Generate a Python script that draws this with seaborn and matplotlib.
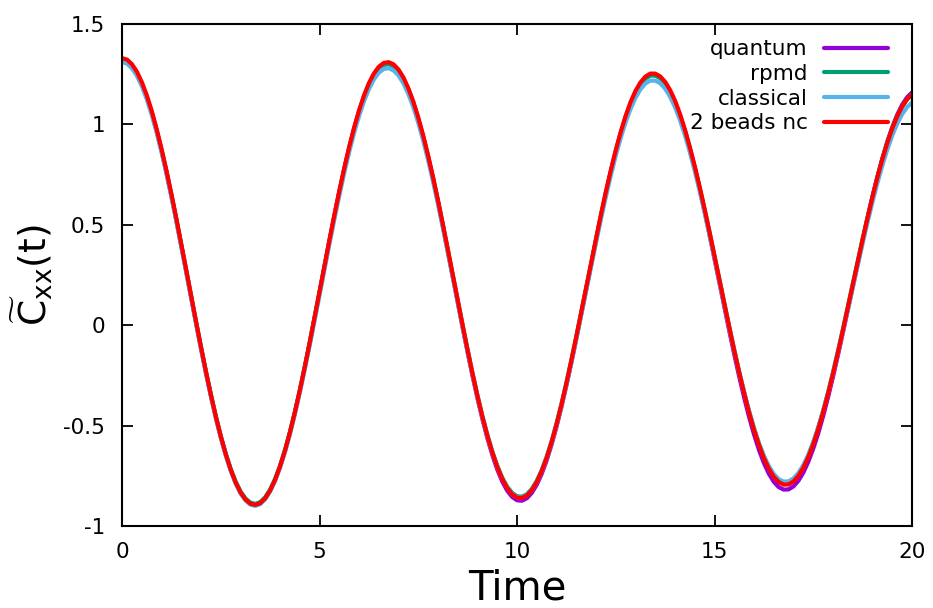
import numpy as np
import pandas as pd
import matplotlib
matplotlib.use("Agg")
import matplotlib.pyplot as plt
import seaborn as sns

# Time grid of the correlation functions (step 0.125)
time = np.linspace(0.0, 20.0, 161)

quantum = [
    1.3200, 1.3125, 1.2899, 1.2527, 1.2012, 1.1363, 1.0587, 0.9696, 0.8702, 0.7618,
    0.6459, 0.5241, 0.3980, 0.2694, 0.1401, 0.0117, -0.1140, -0.2352, -0.3502, -0.4576,
    -0.5558, -0.6436, -0.7197, -0.7831, -0.8329, -0.8684, -0.8892, -0.8950, -0.8856, -0.8614,
    -0.8227, -0.7700, -0.7039, -0.6254, -0.5356, -0.4357, -0.3271, -0.2112, -0.0896, 0.0360,
    0.1639, 0.2923, 0.4196, 0.5440, 0.6637, 0.7772, 0.8828, 0.9792, 1.0650, 1.1391,
    1.2005, 1.2483, 1.2818, 1.3007, 1.3046, 1.2936, 1.2679, 1.2278, 1.1739, 1.1070,
    1.0278, 0.9375, 0.8374, 0.7288, 0.6132, 0.4922, 0.3674, 0.2405, 0.1132, -0.0127,
    -0.1354, -0.2533, -0.3649, -0.4686, -0.5629, -0.6466, -0.7186, -0.7778, -0.8235, -0.8550,
    -0.8720, -0.8742, -0.8616, -0.8348, -0.7941, -0.7400, -0.6732, -0.5947, -0.5055, -0.4069,
    -0.3002, -0.1868, -0.0682, 0.0538, 0.1776, 0.3016, 0.4240, 0.5431, 0.6574, 0.7653,
    0.8654, 0.9562, 1.0365, 1.1052, 1.1614, 1.2043, 1.2333, 1.2481, 1.2484, 1.2346,
    1.2068, 1.1655, 1.1113, 1.0449, 0.9671, 0.8790, 0.7819, 0.6771, 0.5659, 0.4500,
    0.3309, 0.2102, 0.0895, -0.0295, -0.1451, -0.2558, -0.3600, -0.4565, -0.5437, -0.6206,
    -0.6861, -0.7394, -0.7796, -0.8062, -0.8189, -0.8178, -0.8027, -0.7744, -0.7332, -0.6796,
    -0.6144, -0.5384, -0.4526, -0.3583, -0.2567, -0.1492, -0.0373, 0.0775, 0.1936, 0.3095,
    0.4236, 0.5343, 0.6400, 0.7394, 0.8311, 0.9138, 0.9865, 1.0481, 1.0978, 1.1349,
    1.1589,
]

rpmd = [
    1.320, 1.313, 1.290, 1.253, 1.201, 1.136, 1.059, 0.970, 0.871, 0.763,
    0.647, 0.526, 0.400, 0.272, 0.143, 0.015, -0.111, -0.232, -0.346, -0.454,
    -0.552, -0.639, -0.715, -0.778, -0.828, -0.863, -0.884, -0.890, -0.881, -0.857,
    -0.818, -0.766, -0.700, -0.622, -0.532, -0.433, -0.325, -0.209, -0.088, 0.037,
    0.164, 0.292, 0.419, 0.543, 0.662, 0.775, 0.880, 0.976, 1.061, 1.135,
    1.196, 1.244, 1.277, 1.296, 1.300, 1.289, 1.263, 1.223, 1.170, 1.104,
    1.026, 0.937, 0.838, 0.731, 0.616, 0.496, 0.373, 0.248, 0.122, -0.003,
    -0.124, -0.241, -0.351, -0.454, -0.547, -0.629, -0.700, -0.759, -0.804, -0.835,
    -0.852, -0.854, -0.842, -0.815, -0.775, -0.722, -0.656, -0.578, -0.490, -0.393,
    -0.287, -0.175, -0.058, 0.063, 0.185, 0.308, 0.429, 0.546, 0.659, 0.766,
    0.865, 0.955, 1.034, 1.102, 1.157, 1.199, 1.228, 1.243, 1.243, 1.230,
    1.203, 1.162, 1.109, 1.044, 0.968, 0.881, 0.786, 0.683, 0.574, 0.461,
    0.344, 0.226, 0.107, -0.010, -0.123, -0.232, -0.334, -0.429, -0.514, -0.590,
    -0.654, -0.706, -0.745, -0.771, -0.784, -0.783, -0.768, -0.740, -0.700, -0.648,
    -0.584, -0.510, -0.426, -0.334, -0.234, -0.129, -0.020, 0.092, 0.206, 0.319,
    0.430, 0.538, 0.642, 0.739, 0.829, 0.910, 0.981, 1.041, 1.089, 1.125,
    1.149,
]

classical = [
    1.310, 1.303, 1.280, 1.243, 1.191, 1.126, 1.049, 0.960, 0.861, 0.753,
    0.637, 0.516, 0.390, 0.262, 0.133, 0.005, -0.121, -0.242, -0.356, -0.464,
    -0.562, -0.649, -0.725, -0.788, -0.838, -0.873, -0.894, -0.900, -0.891, -0.867,
    -0.828, -0.776, -0.711, -0.633, -0.544, -0.445, -0.337, -0.222, -0.102, 0.022,
    0.149, 0.277, 0.403, 0.526, 0.644, 0.757, 0.862, 0.957, 1.042, 1.115,
    1.176, 1.224, 1.257, 1.276, 1.280, 1.269, 1.244, 1.204, 1.151, 1.086,
    1.008, 0.919, 0.821, 0.714, 0.601, 0.482, 0.360, 0.235, 0.110, -0.014,
    -0.134, -0.250, -0.359, -0.461, -0.554, -0.636, -0.706, -0.764, -0.809, -0.840,
    -0.857, -0.859, -0.847, -0.821, -0.781, -0.728, -0.663, -0.586, -0.498, -0.402,
    -0.297, -0.186, -0.070, 0.049, 0.170, 0.291, 0.411, 0.528, 0.640, 0.746,
    0.844, 0.933, 1.011, 1.078, 1.133, 1.175, 1.204, 1.218, 1.218, 1.205,
    1.178, 1.138, 1.086, 1.022, 0.947, 0.862, 0.768, 0.667, 0.559, 0.447,
    0.332, 0.215, 0.099, -0.016, -0.128, -0.235, -0.336, -0.429, -0.513, -0.588,
    -0.651, -0.702, -0.741, -0.767, -0.779, -0.778, -0.763, -0.736, -0.697, -0.646,
    -0.584, -0.511, -0.429, -0.339, -0.242, -0.140, -0.033, 0.077, 0.188, 0.298,
    0.407, 0.513, 0.614, 0.709, 0.796, 0.875, 0.945, 1.004, 1.051, 1.086,
    1.109,
]

beads2_nc = [
    1.330, 1.323, 1.300, 1.263, 1.211, 1.146, 1.068, 0.978, 0.878, 0.769,
    0.653, 0.531, 0.404, 0.275, 0.145, 0.016, -0.110, -0.232, -0.348, -0.456,
    -0.554, -0.642, -0.719, -0.783, -0.833, -0.868, -0.889, -0.895, -0.886, -0.862,
    -0.823, -0.770, -0.703, -0.625, -0.535, -0.435, -0.326, -0.210, -0.088, 0.038,
    0.166, 0.295, 0.423, 0.547, 0.667, 0.781, 0.887, 0.983, 1.069, 1.143,
    1.205, 1.253, 1.287, 1.306, 1.310, 1.299, 1.273, 1.233, 1.179, 1.113,
    1.034, 0.944, 0.844, 0.736, 0.621, 0.500, 0.376, 0.250, 0.123, -0.003,
    -0.125, -0.243, -0.354, -0.457, -0.551, -0.634, -0.706, -0.765, -0.811, -0.842,
    -0.859, -0.861, -0.849, -0.822, -0.781, -0.727, -0.661, -0.583, -0.494, -0.396,
    -0.289, -0.176, -0.058, 0.064, 0.187, 0.310, 0.432, 0.551, 0.665, 0.772,
    0.872, 0.962, 1.042, 1.111, 1.167, 1.209, 1.238, 1.253, 1.253, 1.239,
    1.212, 1.171, 1.118, 1.052, 0.975, 0.887, 0.791, 0.688, 0.578, 0.463,
    0.345, 0.225, 0.106, -0.012, -0.127, -0.236, -0.339, -0.435, -0.521, -0.597,
    -0.662, -0.715, -0.755, -0.781, -0.794, -0.793, -0.778, -0.750, -0.710, -0.657,
    -0.593, -0.518, -0.434, -0.342, -0.242, -0.136, -0.026, 0.087, 0.201, 0.315,
    0.427, 0.535, 0.639, 0.737, 0.827, 0.908, 0.980, 1.040, 1.089, 1.125,
    1.149,
]

series_names = ["quantum", "rpmd", "classical", "2 beads nc"]
series_colors = ["#9400d3", "#009e73", "#56b4e9", "#ff0000"]
x_ticks = [0, 5, 10, 15, 20]
y_ticks = [-1, -0.5, 0, 0.5, 1, 1.5]
y_tick_labels = ["-1", "-0.5", "0", "0.5", "1", "1.5"]

df = pd.concat(
    [
        pd.DataFrame({"Time": time, "C": vals, "method": name})
        for name, vals in zip(series_names, [quantum, rpmd, classical, beads2_nc])
    ],
    ignore_index=True,
)

sns.set_theme(style="ticks")
plt.rcParams["font.family"] = ["DejaVu Sans"]
plt.rcParams["mathtext.fontset"] = "dejavusans"
plt.rcParams["text.color"] = "black"
plt.rcParams["axes.labelcolor"] = "black"

fig = plt.figure(figsize=(9.33, 6.08), dpi=100)
ax = fig.add_axes([0.1308, 0.1349, 0.8467, 0.8256])

sns.lineplot(
    data=df, x="Time", y="C", hue="method", hue_order=series_names,
    palette=dict(zip(series_names, series_colors)), estimator=None,
    sort=False, linewidth=3.0, legend=False, ax=ax,
)
for line in ax.lines:
    line.set_solid_joinstyle("round")
    line.set_solid_capstyle("round")

ax.set_xlim(0, 20)
ax.set_ylim(-1, 1.5)
ax.set_xticks(x_ticks)
ax.set_xticklabels([str(v) for v in x_ticks])
ax.set_yticks(y_ticks)
ax.set_yticklabels(y_tick_labels)

for side in ["left", "right", "top", "bottom"]:
    ax.spines[side].set_visible(True)
    ax.spines[side].set_linewidth(1.5)
    ax.spines[side].set_color("black")

ax.tick_params(axis="both", which="major", direction="in", length=8, width=1.3,
               top=True, right=True, labelsize=15.5, colors="black",
               labelcolor="black")
ax.tick_params(axis="x", pad=11.5)
ax.tick_params(axis="y", pad=12)

ax.set_xlabel("Time", fontsize=29, labelpad=5)
ax.set_ylabel(r"$\widetilde{\mathrm{C}}_{\mathrm{xx}}\mathrm{(t)}$", fontsize=27, labelpad=6)

ax.legend(
    handles=ax.lines[:4], labels=series_names, loc="upper right",
    bbox_to_anchor=(0.989, 1.0), frameon=False, markerfirst=False,
    fontsize=15.5, handlelength=3.0, handletextpad=0.75, labelspacing=0.22,
    borderaxespad=0.3,
)

fig.savefig("out.png", dpi=100)
